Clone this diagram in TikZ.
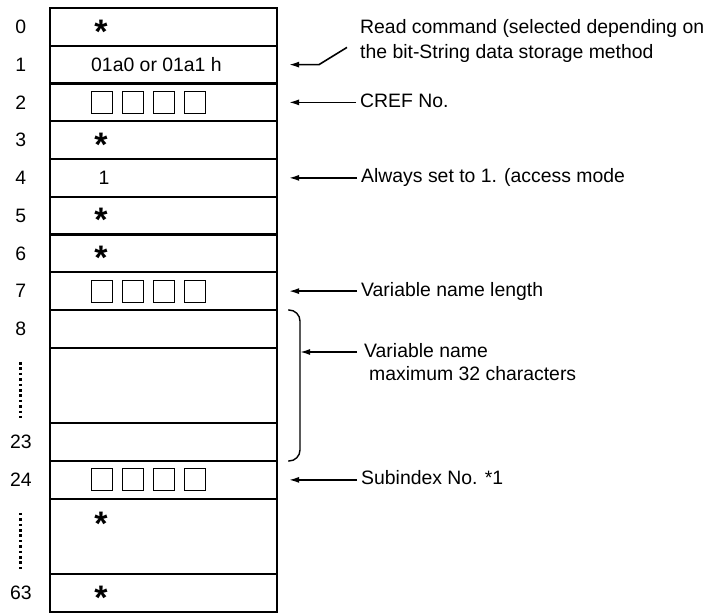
\documentclass[tikz,border=0pt]{standalone}
\usepackage{fontspec}
\setmainfont{Liberation Sans}
\usetikzlibrary{arrows.meta,positioning,calc}

\begin{document}
\begin{tikzpicture}[
  x=1pt, y=1pt,
  font=\fontsize{19.4}{23}\selectfont,
  cell/.style={draw, line width=2.2pt, minimum width=227pt, minimum height=37.75pt, inner sep=0pt, outer sep=0pt},
  tallcell/.style={cell, minimum height=75.5pt},
  idx/.style={minimum width=58pt, inner sep=0pt},
  box/.style={draw, line width=1pt, minimum width=21pt, minimum height=22pt, inner sep=0pt},
  star/.style={font=\fontsize{34}{34}\selectfont\bfseries, inner sep=0pt},
  note/.style={anchor=west, inner sep=0pt, text height=14pt, text depth=4pt},
  arr/.style={-{Latex[length=10pt,width=6pt]}, line width=1.6pt},
  dotline/.style={line width=2.8pt, dash pattern=on 2.6pt off 2.8pt},
  brace/.style={line width=1.4pt, rounded corners=11pt}
]
  \useasboundingbox (0,0) rectangle (715,-613);

  % table rows
  \node[cell, anchor=north west] (c0) at (50,-8) {};
  \foreach \i [count=\j from 0] in {1,...,8}
    \node[cell, below=0pt of c\j] (c\i) {};
  \node[tallcell, below=0pt of c8] (c9) {};
  \node[cell, below=0pt of c9] (c23) {};
  \node[cell, below=0pt of c23] (c24) {};
  \node[tallcell, below=0pt of c24] (c25) {};
  \node[cell, below=0pt of c25] (c63) {};

  % word numbers
  \foreach \i in {0,...,8,23,24,63}
    \node[idx, left=0pt of c\i] (l\i) {\i};
  \draw[dotline, shorten <=26pt, shorten >=17pt] (l8) -- (l23);
  \draw[dotline, shorten <=26pt, shorten >=17pt] (l24) -- (l63);

  % contents
  \foreach \i in {0,3,5,6,63}
    \node[star] (s\i) at ([xshift=51pt, yshift=-4.5pt]c\i.west) {*};
  \node[star] (s25) at ([xshift=51pt, yshift=-25pt]c25.north west) {*};
  \node[anchor=west, inner sep=0pt] (cmd) at ([xshift=41pt]c1.west) {01a0 or 01a1 h};
  \node[inner sep=0pt] (one) at ([xshift=54pt]c4.west) {1};
  \foreach \r in {2,7,24}
    \foreach \k in {0,...,3}
      \node[box] (b\r-\k) at ([xshift={(51.5+31*\k)*1pt}]c\r.west) {};

  % notes
  \node[note] (rc1) at (360,-28) {Read command (selected depending on};
  \node[note, below=7pt of rc1.south west, anchor=north west] (rc2) {the bit-String data storage method};
  \node[note, right=83pt of c2] (cref) {CREF No.};
  \node[note, right=84pt of c4] (mode) {Always set to 1. (access mode};
  \node[note, right=84pt of c7] (vlen) {Variable name length};
  \node[note] (vn1) at (364,-352) {Variable name};
  \node[note, below=5pt of vn1.south west, anchor=north west, xshift=5pt] (vn2) {maximum 32 characters};
  \node[note, right=84pt of c24] (sub) {Subindex No. *1};

  % brace over words 8 to 23
  \coordinate (brt) at ([xshift=23pt]c8.north east);
  \draw[brace] ([xshift=11pt]c8.north east) -- (brt) -- ([xshift=23pt]c23.south east) -- ([xshift=11pt]c23.south east);

  \draw[arr] ([xshift=-13pt, yshift=6pt]rc2.west) -- ([xshift=42pt]c1.east) -- ([xshift=12pt]c1.east);
  \draw[arr] ([xshift=-4pt]cref.west) -- ([xshift=12pt]c2.east);
  \draw[arr] ([xshift=-4pt]mode.west) -- ([xshift=12pt]c4.east);
  \draw[arr] ([xshift=-4pt]vlen.west) -- ([xshift=12pt]c7.east);
  \draw[arr] ([xshift=-7pt]vn1.west) -- (vn1.west -| brt);
  \draw[arr] ([xshift=-4pt]sub.west) -- ([xshift=12pt]c24.east);
\end{tikzpicture}
\end{document}
